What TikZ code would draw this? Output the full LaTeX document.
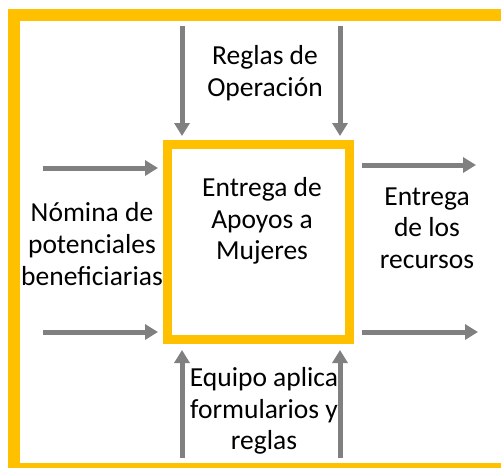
\documentclass[tikz,border=0pt]{standalone}
\usepackage{fontspec}
\setmainfont{Carlito}
\usetikzlibrary{arrows.meta}
\definecolor{frameyellow}{HTML}{FFC000}
\definecolor{arrowgray}{HTML}{808080}
\begin{document}
\begin{tikzpicture}[x=1pt,y=-1pt,
  flow/.style={draw=arrowgray,line width=5pt,-{Triangle[width=15pt,length=13pt]}},
  lbl/.style={align=center,font=\fontsize{27.5}{31.7}\selectfont,inner sep=0pt}]
\useasboundingbox (0,0) rectangle (501,467);
\begin{scope}
  \clip (0,0) rectangle (501,467);
  \draw[frameyellow,line width=12pt] (14,14.5) rectangle (507,469);
\end{scope}
\node[draw=frameyellow,line width=9pt,minimum width=182pt,minimum height=195pt,inner sep=0pt] (box) at (258.5,242) {};
\node[lbl] (proc) at (262,221) {Entrega de\\Apoyos a\\Mujeres};
\node[lbl] (ctrl) at (265,73) {Reglas de\\Operación};
\node[lbl] (inp) at (92,244) {Nómina de\\potenciales\\beneficiarias};
\node[lbl] (outp) at (427,228) {Entrega\\de los\\recursos};
\node[lbl] (mech) at (264,411) {Equipo aplica\\formularios y\\reglas};
% top arrows
\coordinate (ta1) at (182,26); \coordinate (tb1) at (182,136);
\coordinate (ta2) at (340,26); \coordinate (tb2) at (340,136);
\draw[flow] (ta1) -- (tb1);
\draw[flow] (ta2) -- (tb2);
% left arrows
\coordinate (la1) at (43,168); \coordinate (lb1) at (158,168);
\coordinate (la2) at (43,332); \coordinate (lb2) at (158,332);
\draw[flow] (la1) -- (lb1);
\draw[flow] (la2) -- (lb2);
% right arrows
\coordinate (ra1) at (362,165); \coordinate (rb1) at (476,165);
\coordinate (ra2) at (362,332); \coordinate (rb2) at (478,332);
\draw[flow] (ra1) -- (rb1);
\draw[flow] (ra2) -- (rb2);
% bottom arrows
\coordinate (ba1) at (182,458); \coordinate (bb1) at (182,350);
\coordinate (ba2) at (340,458); \coordinate (bb2) at (340,350);
\draw[flow] (ba1) -- (bb1);
\draw[flow] (ba2) -- (bb2);
\end{tikzpicture}
\end{document}
